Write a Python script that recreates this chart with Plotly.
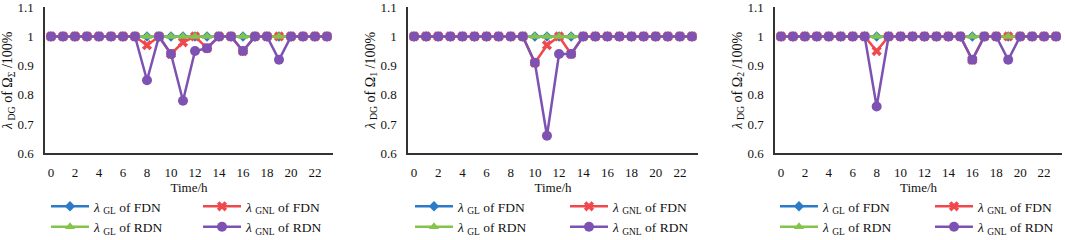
import plotly.graph_objects as go

hours = list(range(24))
tick_hours = [0, 2, 4, 6, 8, 10, 12, 14, 16, 18, 20, 22]
y_ticks = [0.6, 0.7, 0.8, 0.9, 1.0, 1.1]
y_ticktext = ["0.6", "0.7", "0.8", "0.9", "1", "1.1"]

# Panel 1: Omega_Sigma
sig_gl_fdn = [1, 1, 1, 1, 1, 1, 1, 1, 1, 1, 1, 1, 1, 1, 1, 1, 1, 1, 1, 1, 1, 1, 1, 1]
sig_gnl_fdn = [1, 1, 1, 1, 1, 1, 1, 1, 0.97, 1, 0.94, 0.98, 1, 0.96, 1, 1, 0.95, 1, 1, 1, 1, 1, 1, 1]
sig_gl_rdn = [1, 1, 1, 1, 1, 1, 1, 1, 1, 1, 1, 1, 1, 1, 1, 1, 1, 1, 1, 1, 1, 1, 1, 1]
sig_gnl_rdn = [1, 1, 1, 1, 1, 1, 1, 1, 0.85, 1, 0.94, 0.78, 0.95, 0.96, 1, 1, 0.95, 1, 1, 0.92, 1, 1, 1, 1]

# Panel 2: Omega_1
o1_gl_fdn = [1, 1, 1, 1, 1, 1, 1, 1, 1, 1, 1, 1, 1, 1, 1, 1, 1, 1, 1, 1, 1, 1, 1, 1]
o1_gnl_fdn = [1, 1, 1, 1, 1, 1, 1, 1, 1, 1, 0.91, 0.97, 1, 0.94, 1, 1, 1, 1, 1, 1, 1, 1, 1, 1]
o1_gl_rdn = [1, 1, 1, 1, 1, 1, 1, 1, 1, 1, 1, 1, 1, 1, 1, 1, 1, 1, 1, 1, 1, 1, 1, 1]
o1_gnl_rdn = [1, 1, 1, 1, 1, 1, 1, 1, 1, 1, 0.91, 0.66, 0.94, 0.94, 1, 1, 1, 1, 1, 1, 1, 1, 1, 1]

# Panel 3: Omega_2
o2_gl_fdn = [1, 1, 1, 1, 1, 1, 1, 1, 1, 1, 1, 1, 1, 1, 1, 1, 1, 1, 1, 1, 1, 1, 1, 1]
o2_gnl_fdn = [1, 1, 1, 1, 1, 1, 1, 1, 0.95, 1, 1, 1, 1, 1, 1, 1, 0.92, 1, 1, 1, 1, 1, 1, 1]
o2_gl_rdn = [1, 1, 1, 1, 1, 1, 1, 1, 1, 1, 1, 1, 1, 1, 1, 1, 1, 1, 1, 1, 1, 1, 1, 1]
o2_gnl_rdn = [1, 1, 1, 1, 1, 1, 1, 1, 0.76, 1, 1, 1, 1, 1, 1, 1, 0.92, 1, 1, 0.92, 1, 1, 1, 1]

series_names = [
    "<i>λ</i> <sub>GL</sub> of FDN",
    "<i>λ</i> <sub>GNL</sub> of FDN",
    "<i>λ</i> <sub>GL</sub> of RDN",
    "<i>λ</i> <sub>GNL</sub> of RDN",
]
y_titles = [
    "<i>λ</i><sub> DG</sub> of Ω<sub>Σ</sub> /100%",
    "<i>λ</i><sub> DG</sub> of Ω<sub>1</sub> /100%",
    "<i>λ</i><sub> DG</sub> of Ω<sub>2</sub> /100%",
]
panels = [
    [sig_gl_fdn, sig_gnl_fdn, sig_gl_rdn, sig_gnl_rdn],
    [o1_gl_fdn, o1_gnl_fdn, o1_gl_rdn, o1_gnl_rdn],
    [o2_gl_fdn, o2_gnl_fdn, o2_gl_rdn, o2_gnl_rdn],
]

colors = ["#2B7BC8", "#F0484C", "#84C44A", "#7D52B2"]
symbols = ["diamond", "x", "triangle-up", "circle"]
msizes = [8, 9, 9, 10]

FONT = "Liberation Serif"
W, H = 1065, 240
x_dom = [(45, 333), (408, 698), (775, 1062)]
y_dom = [(240 - 153.3) / H, (240 - 7.2) / H]
legend_x = [(46, 198), (410, 565), (775, 930)]

fig = go.Figure()
for p in range(3):
    xa = "x" if p == 0 else f"x{p+1}"
    ya = "y" if p == 0 else f"y{p+1}"
    for s in range(4):
        col = s % 2  # 0: GL column, 1: GNL column
        leg_idx = p * 2 + col + 1
        leg = "legend" if leg_idx == 1 else f"legend{leg_idx}"
        fig.add_trace(go.Scatter(
            x=hours, y=panels[p][s], mode="lines+markers",
            name=series_names[s],
            line=dict(color=colors[s], width=2.5),
            marker=dict(symbol=symbols[s], size=msizes[s], color=colors[s]),
            xaxis=xa, yaxis=ya, legend=leg,
        ))

layout = dict(
    width=W, height=H,
    margin=dict(l=0, r=0, t=0, b=0, autoexpand=False),
    paper_bgcolor="white", plot_bgcolor="white",
    font=dict(family=FONT, size=13, color="#111111"),
)
for p in range(3):
    sx = "" if p == 0 else str(p + 1)
    layout["xaxis" + sx] = dict(
        domain=[x_dom[p][0] / W, x_dom[p][1] / W],
        anchor="y" + sx,
        range=[-0.5, 23.5],
        automargin=False,
        tickmode="array", tickvals=tick_hours,
        ticktext=[str(t) for t in tick_hours],
        showgrid=False, zeroline=False,
        showline=True, linecolor="#333333", linewidth=1.5,
        ticks="", ticklabelstandoff=6, ticklabeloverflow="allow",
        tickfont=dict(family=FONT, size=13, color="#111111"),
        title=dict(text="Time/h", font=dict(family=FONT, size=13, color="#111111"), standoff=3),
    )
    layout["yaxis" + sx] = dict(
        domain=y_dom,
        anchor="x" + sx,
        range=[0.6, 1.1001],
        automargin=False,
        tickmode="array", tickvals=y_ticks, ticktext=y_ticktext,
        showgrid=False, zeroline=False,
        showline=True, linecolor="#333333", linewidth=1.5,
        ticks="", ticklabelstandoff=7, ticklabeloverflow="allow",
        tickfont=dict(family=FONT, size=13, color="#111111"),
        title=dict(text=y_titles[p], font=dict(family=FONT, size=14, color="#111111"), standoff=2),
    )
    for c in range(2):
        leg_idx = p * 2 + c + 1
        name = "legend" if leg_idx == 1 else f"legend{leg_idx}"
        layout[name] = dict(
            x=legend_x[p][c] / W, y=(240 - 191) / H,
            xanchor="left", yanchor="top",
            orientation="v", tracegroupgap=0,
            bgcolor="rgba(0,0,0,0)", borderwidth=0,
            font=dict(family=FONT, size=13.5, color="#111111"),
            itemwidth=38,
        )
fig.update_layout(**layout)
fig.write_html("out.html", config={"displayModeBar": False},
               post_script="document.body.style.margin='0';")
